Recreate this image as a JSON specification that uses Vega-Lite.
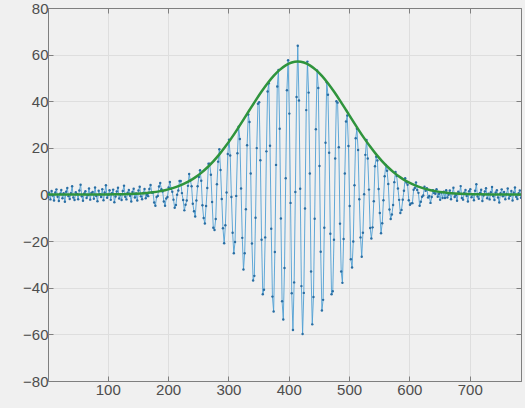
{
  "$schema": "https://vega.github.io/schema/vega-lite/v6.json",
  "autosize": "none",
  "width": 473,
  "height": 373,
  "padding": {"left": 48, "top": 8, "right": 4, "bottom": 27},
  "background": "#f0f0f0",
  "config": {
    "view": {"stroke": "#7f7f7f", "strokeWidth": 1},
    "axis": {"labelFont": "Liberation Sans", "labelFontSize": 15, "labelColor": "#4d4d4d", "domainColor": "#7f7f7f", "tickColor": "#7f7f7f", "gridColor": "#dedede", "title": null}
  },
  "datasets": {
    "sig": [
      {"x":1,"y":-1.2},{"x":3,"y":0.8},{"x":5,"y":-2.1},{"x":7,"y":1.5},{"x":9,"y":-0.4},{"x":11,"y":-2.6},{"x":13,"y":0.9},{"x":15,"y":2.2},{"x":17,"y":-1.0},{"x":19,"y":-2.8},{"x":21,"y":0.3},{"x":23,"y":1.9},{"x":25,"y":-1.6},{"x":27,"y":0.5},{"x":29,"y":-3.1},{"x":31,"y":1.2},{"x":33,"y":2.8},{"x":35,"y":-0.7},{"x":37,"y":-1.9},{"x":39,"y":0.6},{"x":41,"y":3.5},{"x":43,"y":-1.3},{"x":45,"y":-2.4},{"x":47,"y":1.0},{"x":49,"y":0.2},{"x":51,"y":-2.0},{"x":53,"y":1.7},{"x":55,"y":4.2},{"x":57,"y":-0.8},{"x":59,"y":-2.7},{"x":61,"y":0.4},{"x":63,"y":1.4},{"x":65,"y":-1.5},{"x":67,"y":-0.3},{"x":69,"y":2.6},{"x":71,"y":-2.2},{"x":73,"y":0.7},{"x":75,"y":1.1},{"x":77,"y":-1.8},{"x":79,"y":3.0},{"x":81,"y":-0.6},{"x":83,"y":-2.9},{"x":85,"y":1.6},{"x":87,"y":0.1},{"x":89,"y":-1.1},{"x":91,"y":2.3},{"x":93,"y":-2.5},{"x":95,"y":0.9},{"x":97,"y":4.0},{"x":99,"y":-1.4},{"x":101,"y":-0.2},{"x":103,"y":1.8},{"x":105,"y":-2.3},{"x":107,"y":0.6},{"x":109,"y":2.1},{"x":111,"y":-3.3},{"x":113,"y":-0.9},{"x":115,"y":1.3},{"x":117,"y":2.9},{"x":119,"y":-1.7},{"x":121,"y":0.0},{"x":123,"y":-2.4},{"x":125,"y":1.5},{"x":127,"y":3.8},{"x":129,"y":-1.0},{"x":131,"y":-2.1},{"x":133,"y":0.8},{"x":135,"y":1.9},{"x":137,"y":-0.5},{"x":139,"y":-3.0},{"x":141,"y":1.1},{"x":143,"y":2.5},{"x":145,"y":-1.3},{"x":147,"y":0.4},{"x":149,"y":-2.6},{"x":151,"y":1.7},{"x":153,"y":3.3},{"x":155,"y":-0.8},{"x":157,"y":-2.0},{"x":159,"y":0.7},{"x":161,"y":2.4},{"x":163,"y":-1.6},
      {"x":165,"y":-0.2},{"x":167,"y":-0.7},{"x":169,"y":2.4},{"x":171,"y":4.1},{"x":173,"y":0.8},
      {"x":175,"y":0.9},{"x":177,"y":-3.4},{"x":179,"y":-4.8},{"x":181,"y":-1.1},{"x":183,"y":-0.6},{"x":185,"y":3.4},{"x":187,"y":4.9},{"x":189,"y":2.3},
      {"x":191,"y":1.3},{"x":193,"y":-3.0},{"x":195,"y":-4.8},{"x":197,"y":-1.7},{"x":199,"y":-1.1},{"x":201,"y":3.0},{"x":203,"y":5.4},{"x":205,"y":2.5},
      {"x":207,"y":1.2},{"x":209,"y":-2.2},{"x":211,"y":-5.7},{"x":213,"y":-4.5},{"x":215,"y":-0.1},{"x":217,"y":1.7},{"x":219,"y":5.8},{"x":221,"y":5.8},
      {"x":223,"y":0.6},{"x":225,"y":-2.4},{"x":227,"y":-6.8},{"x":229,"y":-4.4},{"x":231,"y":-2.6},{"x":233,"y":3.7},{"x":235,"y":8.8},{"x":237,"y":6.0},
      {"x":239,"y":3.5},{"x":241,"y":-4.0},{"x":243,"y":-7.2},{"x":245,"y":-9.4},{"x":247,"y":-2.6},{"x":249,"y":3.5},{"x":251,"y":7.5},{"x":253,"y":10.4},
      {"x":255,"y":5.9},{"x":257,"y":-4.6},{"x":259,"y":-10.1},{"x":261,"y":-12.4},{"x":263,"y":-4.9},{"x":265,"y":2.8},{"x":267,"y":13.2},{"x":269,"y":13.2},
      {"x":271,"y":8.5},{"x":273,"y":-3.2},{"x":275,"y":-14.3},{"x":277,"y":-15.2},{"x":279,"y":-10.5},{"x":281,"y":4.4},{"x":283,"y":14.1},{"x":285,"y":19.4},
      {"x":287,"y":10.5},{"x":289,"y":-1.9},{"x":291,"y":-14.5},{"x":293,"y":-20.9},{"x":295,"y":-13.2},{"x":297,"y":0.9},{"x":299,"y":17.4},{"x":301,"y":23.5},
      {"x":303,"y":16.7},{"x":305,"y":-1.1},{"x":307,"y":-16.4},{"x":309,"y":-25.2},{"x":311,"y":-20.4},{"x":313,"y":-0.6},{"x":315,"y":17.7},{"x":317,"y":29.1},
      {"x":319,"y":23.8},{"x":321,"y":2.6},{"x":323,"y":-18.6},{"x":325,"y":-32.2},{"x":327,"y":-25.2},{"x":329,"y":-6.3},{"x":331,"y":21.1},{"x":333,"y":34.3},
      {"x":335,"y":31.1},{"x":337,"y":9.0},{"x":339,"y":-21.0},{"x":341,"y":-36.9},{"x":343,"y":-34.9},{"x":345,"y":-10.0},{"x":347,"y":19.9},{"x":349,"y":38.9},
      {"x":351,"y":39.6},{"x":353,"y":14.7},{"x":355,"y":-19.4},{"x":357,"y":-42.8},{"x":359,"y":-40.9},{"x":361,"y":-18.4},{"x":363,"y":18.5},{"x":365,"y":44.2},
      {"x":367,"y":47.7},{"x":369,"y":20.9},{"x":371,"y":-14.7},{"x":373,"y":-43.8},{"x":375,"y":-50.2},{"x":377,"y":-24.7},{"x":379,"y":12.7},{"x":381,"y":46.3},
      {"x":383,"y":53.4},{"x":385,"y":28.2},{"x":387,"y":-10.3},{"x":389,"y":-45.8},{"x":391,"y":-53.6},{"x":393,"y":-31.5},{"x":395,"y":7.0},{"x":397,"y":44.7},
      {"x":399,"y":57.6},{"x":401,"y":34.7},{"x":403,"y":-3.6},{"x":405,"y":-42.4},{"x":407,"y":-58.1},{"x":409,"y":-37.7},{"x":411,"y":1.1},{"x":413,"y":41.8},
      {"x":415,"y":63.8},{"x":417,"y":40.3},{"x":419,"y":2.5},{"x":421,"y":-39.3},{"x":423,"y":-59.8},{"x":425,"y":-42.2},{"x":427,"y":-6.0},{"x":429,"y":36.2},
      {"x":431,"y":57.0},{"x":433,"y":43.7},{"x":435,"y":9.0},{"x":437,"y":-33.0},{"x":439,"y":-55.7},{"x":441,"y":-44.0},{"x":443,"y":-10.4},{"x":445,"y":28.0},
      {"x":447,"y":53.2},{"x":449,"y":45.7},{"x":451,"y":12.2},{"x":453,"y":-24.6},{"x":455,"y":-49.8},{"x":457,"y":-45.2},{"x":459,"y":-14.3},{"x":461,"y":22.2},
      {"x":463,"y":48.1},{"x":465,"y":42.8},{"x":467,"y":17.9},{"x":469,"y":-16.8},{"x":471,"y":-42.8},{"x":473,"y":-41.5},{"x":475,"y":-19.4},{"x":477,"y":15.4},
      {"x":479,"y":40.0},{"x":481,"y":39.4},{"x":483,"y":20.3},{"x":485,"y":-12.5},{"x":487,"y":-33.0},{"x":489,"y":-37.9},{"x":491,"y":-19.1},{"x":493,"y":9.0},
      {"x":495,"y":31.3},{"x":497,"y":33.9},{"x":499,"y":20.8},{"x":501,"y":-4.9},{"x":503,"y":-27.8},{"x":505,"y":-31.3},{"x":507,"y":-20.2},{"x":509,"y":4.0},
      {"x":511,"y":24.1},{"x":513,"y":28.2},{"x":515,"y":19.1},{"x":517,"y":-2.0},{"x":519,"y":-18.4},{"x":521,"y":-26.7},{"x":523,"y":-16.4},{"x":525,"y":0.1},
      {"x":527,"y":17.0},{"x":529,"y":23.4},{"x":531,"y":15.4},{"x":533,"y":2.1},{"x":535,"y":-14.4},{"x":537,"y":-18.9},{"x":539,"y":-14.1},{"x":541,"y":-2.9},
      {"x":543,"y":12.1},{"x":545,"y":16.2},{"x":547,"y":14.6},{"x":549,"y":2.4},{"x":551,"y":-7.9},{"x":553,"y":-16.6},{"x":555,"y":-12.3},{"x":557,"y":-2.5},
      {"x":559,"y":7.8},{"x":561,"y":12.7},{"x":563,"y":10.2},{"x":565,"y":4.5},{"x":567,"y":-6.4},{"x":569,"y":-10.5},{"x":571,"y":-8.6},{"x":573,"y":-4.5},
      {"x":575,"y":5.3},{"x":577,"y":9.7},{"x":579,"y":7.9},{"x":581,"y":2.6},{"x":583,"y":-2.3},{"x":585,"y":-7.9},{"x":587,"y":-6.6},{"x":589,"y":-2.2},
      {"x":591,"y":1.6},{"x":593,"y":7.0},{"x":595,"y":5.1},{"x":597,"y":4.2},{"x":599,"y":-2.5},{"x":601,"y":-4.4},{"x":603,"y":-3.8},{"x":605,"y":-3.7},
      {"x":607,"y":2.0},{"x":609,"y":2.8},{"x":611,"y":5.2},{"x":613,"y":1.9},{"x":615,"y":0.7},{"x":617,"y":-4.8},{"x":619,"y":-3.1},{"x":621,"y":-1.0},
      {"x":623,"y":-0.4},{"x":625,"y":3.3},{"x":627,"y":1.6},{"x":629,"y":2.7},{"x":631,"y":-1.3},{"x":633,"y":-0.6},{"x":635,"y":-3.6},{"x":637,"y":-1.1},
      {"x":639,"y":1.8},{"x":641,"y":0.6},{"x":643,"y":0.3},{"x":645,"y":2.3},{"x":647,"y":-1.0},{"x":649,"y":0.3},{"x":651,"y":-2.3},{"x":653,"y":0.8},
      {"x":655,"y":-1.5},{"x":657,"y":1.2},{"x":659,"y":-1.5},{"x":661,"y":1.8},{"x":663,"y":-1.3},{"x":665,"y":-0.1},
      {"x":667,"y":1.7},{"x":669,"y":-2.0},{"x":671,"y":0.6},{"x":673,"y":2.9},{"x":675,"y":-1.1},{"x":677,"y":-0.3},{"x":679,"y":-2.7},{"x":681,"y":1.2},{"x":683,"y":0.4},{"x":685,"y":3.6},{"x":687,"y":-1.5},{"x":689,"y":-2.2},{"x":691,"y":0.8},{"x":693,"y":1.9},{"x":695,"y":-0.6},{"x":697,"y":-3.0},{"x":699,"y":1.4},{"x":701,"y":2.3},{"x":703,"y":-1.2},{"x":705,"y":0.1},{"x":707,"y":-2.5},{"x":709,"y":1.6},{"x":711,"y":4.4},{"x":713,"y":-0.9},{"x":715,"y":-1.8},{"x":717,"y":0.7},{"x":719,"y":2.0},{"x":721,"y":-2.8},{"x":723,"y":-0.4},{"x":725,"y":1.3},{"x":727,"y":2.7},{"x":729,"y":-1.6},{"x":731,"y":0.3},{"x":733,"y":-2.1},{"x":735,"y":1.0},{"x":737,"y":3.2},{"x":739,"y":-0.7},{"x":741,"y":-2.4},{"x":743,"y":0.9},{"x":745,"y":1.8},{"x":747,"y":-1.3},{"x":749,"y":-3.4},{"x":751,"y":0.5},{"x":753,"y":2.2},{"x":755,"y":-0.8},{"x":757,"y":1.1},{"x":759,"y":-2.0},{"x":761,"y":0.2},{"x":763,"y":2.6},{"x":765,"y":-1.7},{"x":767,"y":-0.5},{"x":769,"y":1.5},{"x":771,"y":-2.6},{"x":773,"y":0.8},{"x":775,"y":3.0},{"x":777,"y":-1.0},{"x":779,"y":-1.9},{"x":781,"y":0.6},{"x":783,"y":1.7},{"x":785,"y":-1.4}
    ],
    "fit": [
      {"x":1,"y":0},{"x":65,"y":0.01},{"x":115,"y":0.1},{"x":135,"y":0.22},{"x":155,"y":0.47},{"x":165,"y":0.68},{"x":175,"y":0.96},{"x":185,"y":1.34},{"x":195,"y":1.84},{"x":205,"y":2.5},{"x":215,"y":3.35},{"x":225,"y":4.41},{"x":235,"y":5.73},{"x":245,"y":7.35},{"x":255,"y":9.28},{"x":265,"y":11.57},{"x":275,"y":14.21},{"x":285,"y":17.2},{"x":295,"y":20.54},{"x":305,"y":24.18},{"x":315,"y":28.07},{"x":325,"y":32.11},{"x":335,"y":36.23},{"x":345,"y":40.29},{"x":355,"y":44.17},{"x":365,"y":47.74},{"x":375,"y":50.89},{"x":385,"y":53.48},{"x":395,"y":55.41},{"x":405,"y":56.6},{"x":415,"y":57},{"x":425,"y":56.6},{"x":435,"y":55.41},{"x":445,"y":53.48},{"x":455,"y":50.89},{"x":465,"y":47.74},{"x":475,"y":44.17},{"x":485,"y":40.29},{"x":495,"y":36.23},{"x":505,"y":32.11},{"x":515,"y":28.07},{"x":525,"y":24.18},{"x":535,"y":20.54},{"x":545,"y":17.2},{"x":555,"y":14.21},{"x":565,"y":11.57},{"x":575,"y":9.28},{"x":585,"y":7.35},{"x":595,"y":5.73},{"x":605,"y":4.41},{"x":615,"y":3.35},{"x":625,"y":2.5},{"x":635,"y":1.84},{"x":645,"y":1.34},{"x":655,"y":0.96},{"x":665,"y":0.68},{"x":675,"y":0.47},{"x":695,"y":0.22},{"x":715,"y":0.1},{"x":765,"y":0.01},{"x":785,"y":0}
    ]
  },
  "layer": [
    {
      "data": {"name": "sig"},
      "mark": {"type": "line", "color": "#4f9fd4", "strokeWidth": 0.9, "clip": true},
      "encoding": {
        "x": {"field": "x", "type": "quantitative", "scale": {"domain": [1, 785], "nice": false, "zero": false},
              "axis": {"orient": "bottom", "values": [100, 200, 300, 400, 500, 600, 700], "grid": true, "tickSize": -5, "labelPadding": 6, "domain": true}},
        "y": {"field": "y", "type": "quantitative", "scale": {"domain": [-80, 80], "nice": false},
              "axis": {"orient": "left", "values": [-80, -60, -40, -20, 0, 20, 40, 60, 80], "grid": true, "tickSize": -5, "labelPadding": 5, "domain": true}}
      }
    },
    {
      "data": {"name": "sig"},
      "mark": {"type": "point", "filled": true, "size": 6, "color": "#2a6ea3", "opacity": 1, "clip": true},
      "encoding": {
        "x": {"field": "x", "type": "quantitative", "axis": null},
        "y": {"field": "y", "type": "quantitative", "axis": null}
      }
    },
    {
      "data": {"name": "fit"},
      "mark": {"type": "line", "color": "#2f943c", "strokeWidth": 2.5, "interpolate": "monotone", "clip": true},
      "encoding": {
        "x": {"field": "x", "type": "quantitative",
              "axis": {"orient": "top", "values": [100, 200, 300, 400, 500, 600, 700], "labels": false, "grid": false, "tickSize": -5, "domain": true}},
        "y": {"field": "y", "type": "quantitative",
              "axis": {"orient": "right", "values": [-80, -60, -40, -20, 0, 20, 40, 60, 80], "labels": false, "grid": false, "tickSize": -5, "domain": true}}
      }
    }
  ],
  "resolve": {"axis": {"x": "independent", "y": "independent"}}
}
